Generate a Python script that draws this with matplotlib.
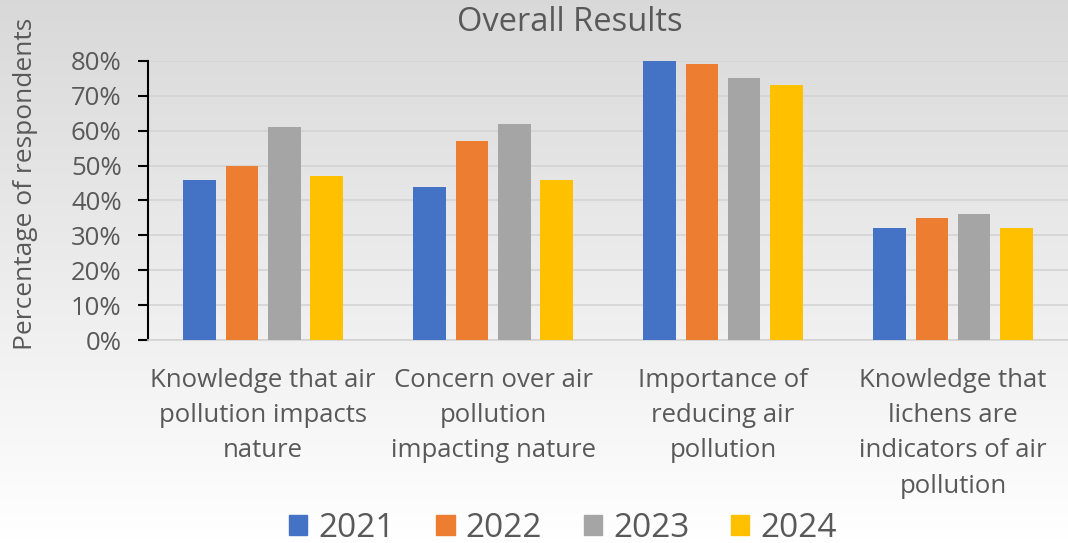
import matplotlib
matplotlib.use("Agg")
import matplotlib.pyplot as plt
import numpy as np
from matplotlib.patches import Patch
from matplotlib.ticker import PercentFormatter

plt.rcParams["font.family"] = ["Open Sans", "DejaVu Sans"]

categories = [
    "Knowledge that air\npollution impacts\nnature",
    "Concern over air\npollution\nimpacting nature",
    "Importance of\nreducing air\npollution",
    "Knowledge that\nlichens are\nindicators of air\npollution",
]
years = ["2021", "2022", "2023", "2024"]
v2021 = [46, 44, 80, 32]
v2022 = [50, 57, 79, 35]
v2023 = [61, 62, 75, 36]
v2024 = [47, 46, 73, 32]
series = [v2021, v2022, v2023, v2024]
colors = ["#4472C4", "#ED7D31", "#A5A5A5", "#FFC000"]
text_c = "#595959"

fig = plt.figure(figsize=(10.68, 5.43), dpi=100)

# background gradient: grey at top to white at bottom
bg = fig.add_axes([0, 0, 1, 1], zorder=-10)
grad = np.linspace(0.85, 1.0, 256).reshape(-1, 1)
bg.imshow(np.dstack([grad, grad, grad]), aspect="auto", extent=[0, 1, 0, 1])
bg.axis("off")

ax = fig.add_axes([0.1386, 0.3738, 0.8614, 0.514])
ax.set_facecolor("none")

x = np.arange(len(categories))
w = 0.143
step = 0.183
for i, (vals, c, y) in enumerate(zip(series, colors, years)):
    ax.bar(x + (i - 1.5) * step, vals, width=w, color=c, label=y, zorder=3)

ax.set_xlim(-0.5, len(categories) - 0.5)
ax.set_ylim(0, 80)
ax.set_yticks(np.arange(0, 81, 10))
ax.yaxis.set_major_formatter(PercentFormatter(decimals=0))
ax.grid(axis="y", color="#d4d4d4", linewidth=1.2, zorder=0)
for s in ["top", "right"]:
    ax.spines[s].set_visible(False)
ax.spines["left"].set_color("black")
ax.spines["left"].set_linewidth(1.5)
ax.spines["bottom"].set_color("#d4d4d4")
ax.spines["bottom"].set_linewidth(1.2)
ax.tick_params(axis="y", length=7, width=1.5, color="black",
               labelsize=18.5, labelcolor=text_c, pad=12)
ax.tick_params(axis="x", length=0, labelsize=18.5, labelcolor=text_c, pad=20)
ax.set_xticks(x)
ax.set_xticklabels(categories, linespacing=1.54)

ax.set_ylabel("Percentage of respondents", fontsize=19, color=text_c)
ax.yaxis.set_label_coords(-0.12, 0.56)
fig.text(0.534, 0.958, "Overall Results", ha="center", va="center",
         fontsize=23.5, color=text_c)

handles = [Patch(color=c, label=y) for c, y in zip(colors, years)]
fig.legend(handles=handles, loc="center", bbox_to_anchor=(0.527, 0.027),
           ncol=4, frameon=False, fontsize=24, labelcolor=text_c,
           handlelength=0.55, handleheight=0.55, columnspacing=1.25,
           handletextpad=0.33)

fig.savefig("out.png", dpi=100)
